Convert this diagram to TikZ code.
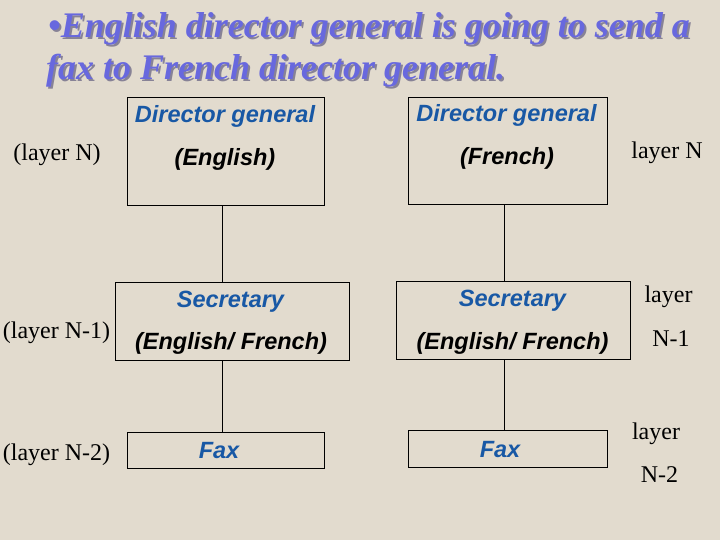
\documentclass[tikz,border=0pt]{standalone}
\usepackage{fontspec}
\setmainfont{Liberation Serif}
\newfontfamily\arialf{Liberation Sans}
\definecolor{bgc}{RGB}{226,219,206}
\definecolor{titlec}{RGB}{104,104,222}
\definecolor{shadowc}{RGB}{135,130,150}
\definecolor{boxblue}{RGB}{24,88,165}
\newcommand{\shadowtext}[1]{\rlap{\hspace{2pt}\raisebox{-2pt}{\textcolor{shadowc}{#1}}}\textcolor{titlec}{#1}}
\tikzset{
  box/.style={draw=black, line width=0.9pt, inner sep=0pt, fill=none},
  btxt/.style={anchor=base, inner sep=0pt, font=\arialf\bfseries\itshape\fontsize{23.5}{28}\selectfont},
  bluetxt/.style={btxt, text=boxblue},
  blacktxt/.style={btxt, text=black},
  laytxt/.style={anchor=base, inner sep=0pt, font=\fontsize{24}{28}\selectfont},
  ttl/.style={anchor=base west, inner sep=0pt, font=\bfseries\itshape\fontsize{36}{40}\selectfont},
  conn/.style={draw=black, line width=0.9pt}
}
\begin{document}
\begin{tikzpicture}[x=1pt,y=-1pt]
\fill[bgc] (0,0) rectangle (720,540);
\useasboundingbox (0,0) rectangle (720,540);
% title with shadow
\node[ttl] (t1) at (48,38) {\shadowtext{•English director general is going to send a}};
\node[ttl] (t2) at (46,80) {\shadowtext{fax to French director general.}};
% boxes
\node[box, minimum width=197, minimum height=108] (b1) at (225.5,151) {};
\node[box, minimum width=199, minimum height=107] (b2) at (507.5,150.5) {};
\node[box, minimum width=234, minimum height=78] (b3) at (232,321) {};
\node[box, minimum width=234, minimum height=78] (b4) at (513,320) {};
\node[box, minimum width=197, minimum height=36] (b5) at (225.5,450) {};
\node[box, minimum width=199, minimum height=37] (b6) at (507.5,448.5) {};
% connectors
\coordinate (cE) at (222,0);
\coordinate (cF) at (504,0);
\draw[conn] (b1.south -| cE) -- (b3.north -| cE);
\draw[conn] (b3.south -| cE) -- (b5.north -| cE);
\draw[conn] (b2.south -| cF) -- (b4.north -| cF);
\draw[conn] (b4.south -| cF) -- (b6.north -| cF);
% box texts
\node[bluetxt] (d1) at (225,123) {Director general};
\node[blacktxt] (e1) at (225,166) {(English)};
\node[bluetxt] (d2) at (506.5,122) {Director general};
\node[blacktxt] (f2) at (507,165) {(French)};
\node[bluetxt] (s1) at (230.5,307) {Secretary};
\node[blacktxt] (ef1) at (231,349) {(English/ French)};
\node[bluetxt] (s2) at (512.5,306) {Secretary};
\node[blacktxt] (ef2) at (512.5,349) {(English/ French)};
\node[bluetxt] (x1) at (219,458) {Fax};
\node[bluetxt] (x2) at (500,457) {Fax};
% layer labels
\node[laytxt] (l1) at (57,161) {(layer N)};
\node[laytxt] (l2) at (56.5,338) {(layer N-1)};
\node[laytxt] (l3) at (56.5,460) {(layer N-2)};
\node[laytxt] (r1) at (667,159) {layer N};
\node[laytxt] (r2a) at (668.5,302) {layer};
\node[laytxt] (r2b) at (671,346) {N-1};
\node[laytxt] (r3a) at (656,439) {layer};
\node[laytxt] (r3b) at (659.5,482) {N-2};
\end{tikzpicture}
\end{document}
